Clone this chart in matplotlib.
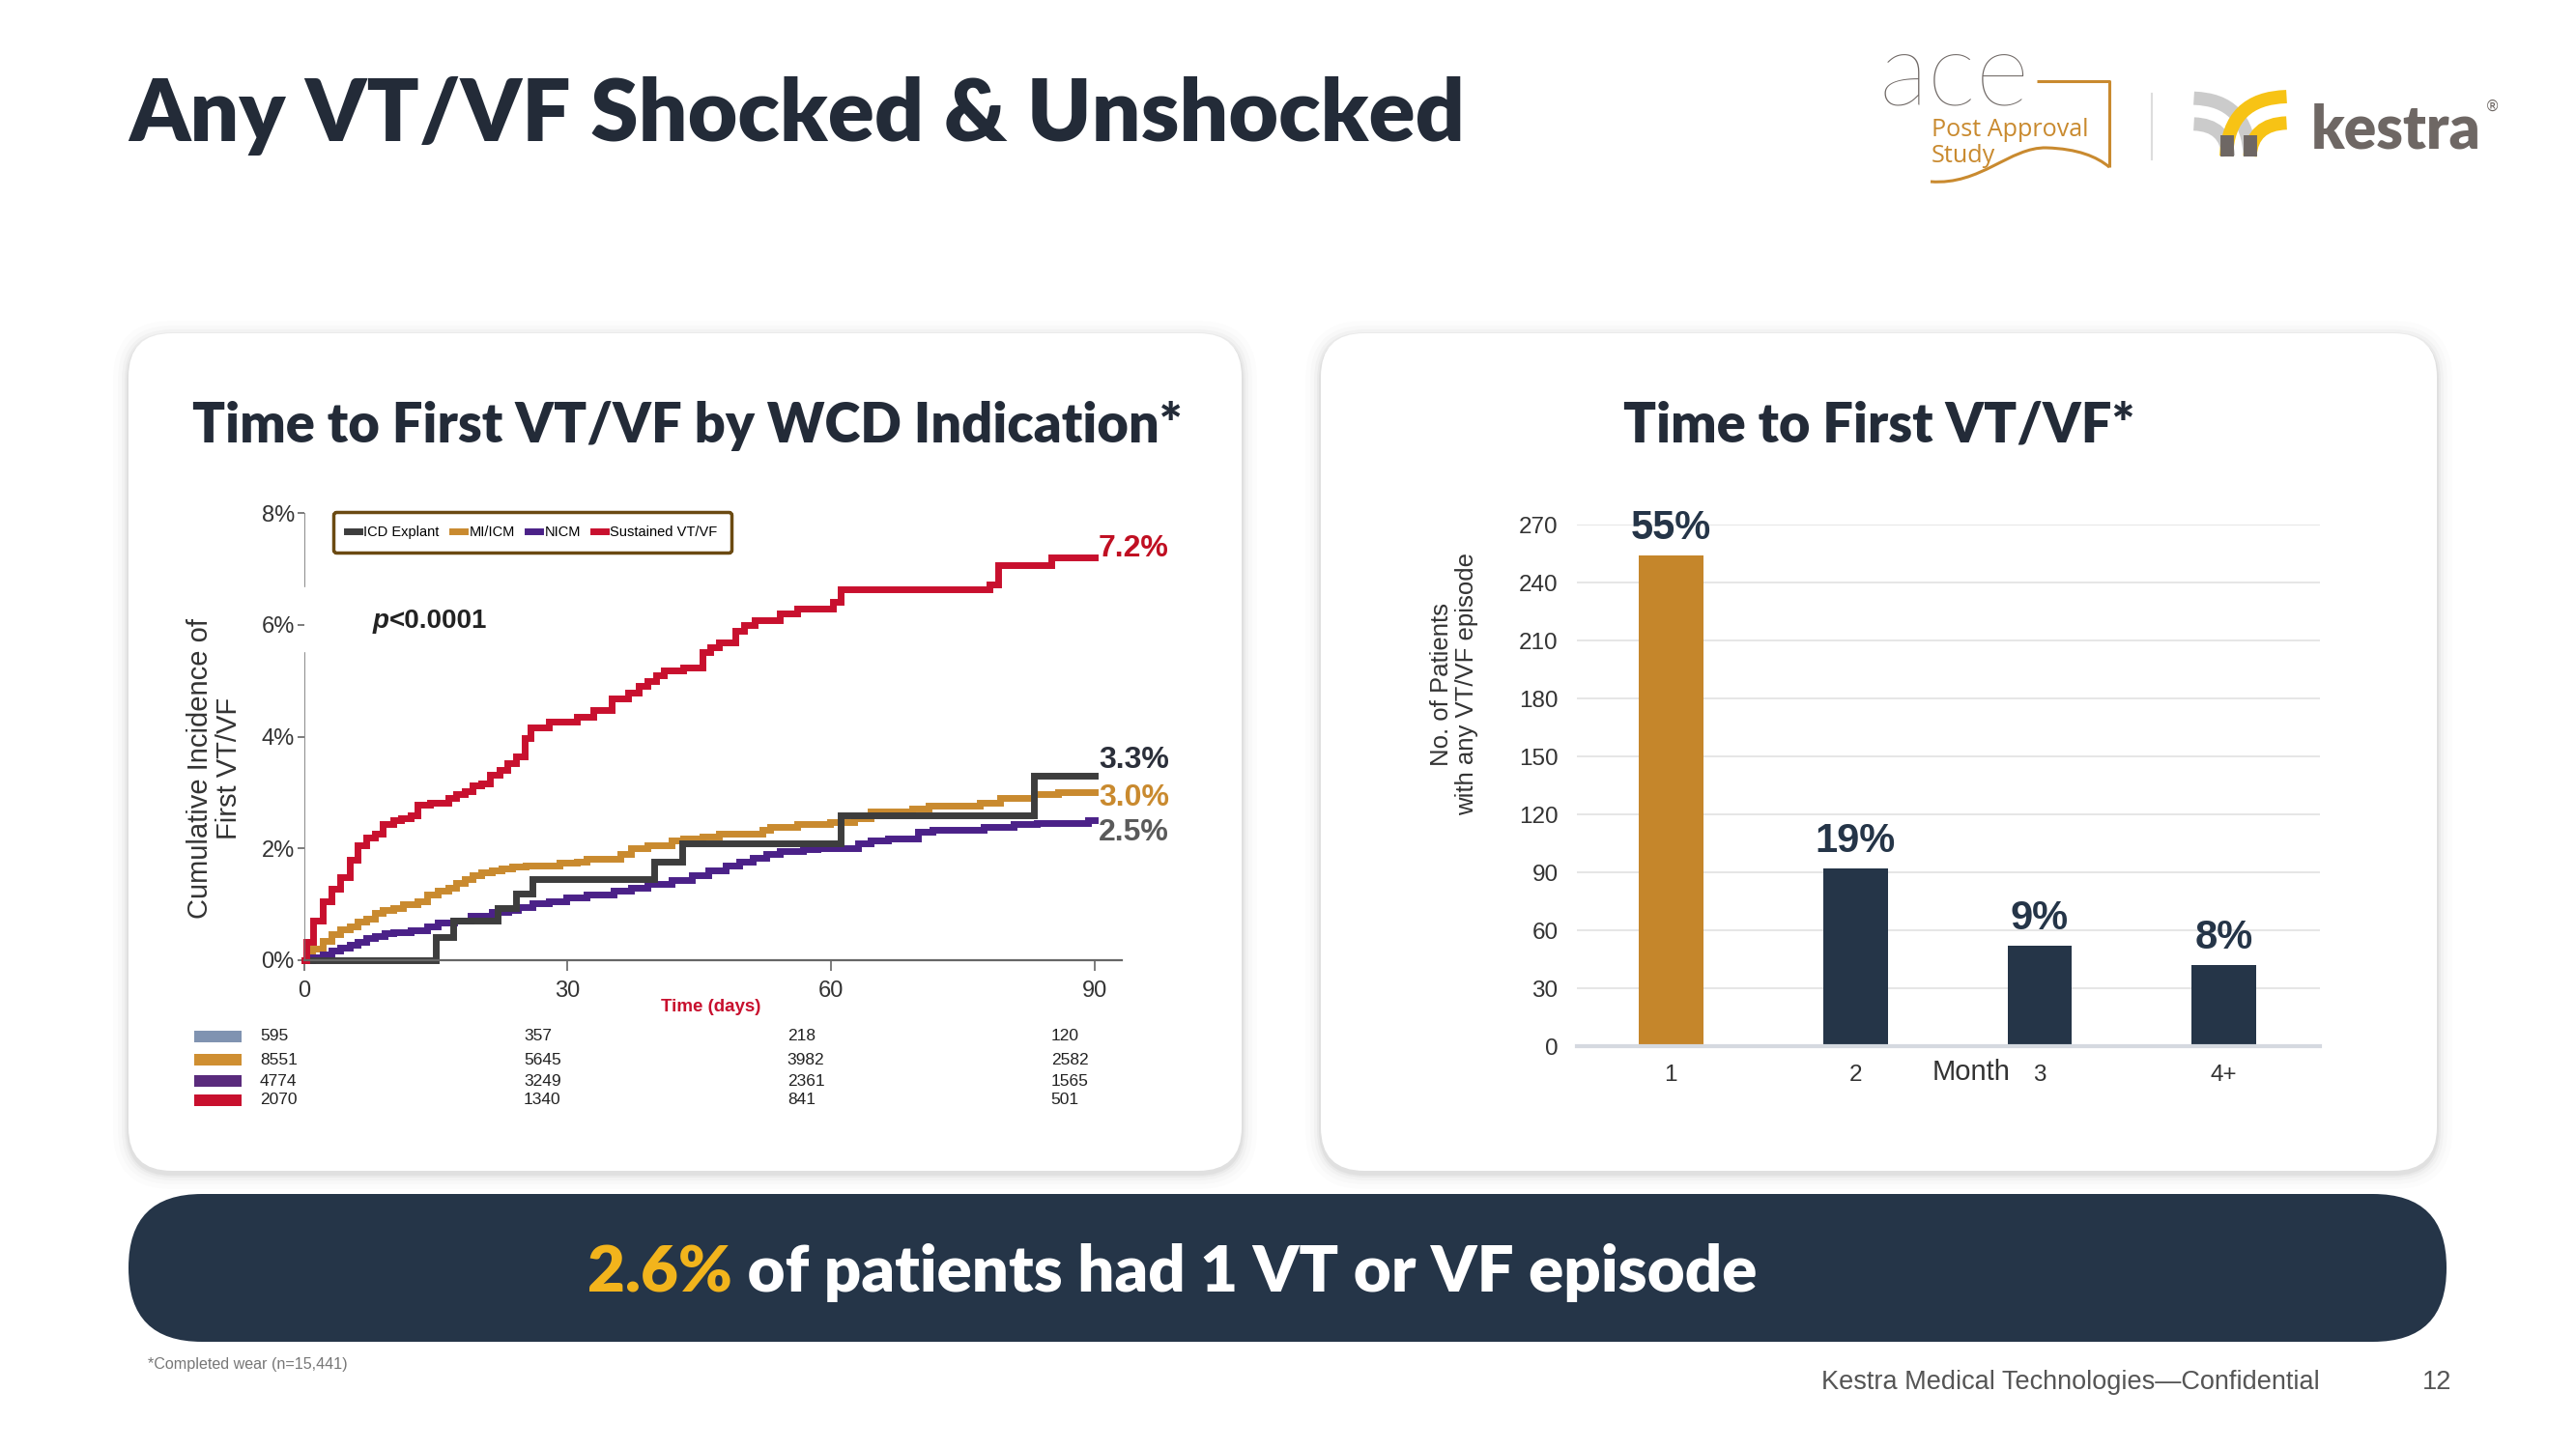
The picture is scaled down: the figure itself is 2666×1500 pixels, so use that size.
import matplotlib
matplotlib.use("Agg")
import matplotlib.pyplot as plt
import matplotlib.transforms as mtransforms
from matplotlib.patches import FancyBboxPatch, Rectangle, PathPatch
from matplotlib.path import Path
from matplotlib.lines import Line2D
from matplotlib.font_manager import FontProperties

# ---------------- data ----------------
groups = ["ICD Explant", "MI/ICM", "NICM", "Sustained VT/VF"]

icd_days = [0, 15.0, 17.0, 22.0, 24.1, 26.0, 39.9, 43.0, 61.1, 83.1, 90]
icd_pct = [0, 0.42, 0.71, 0.94, 1.20, 1.45, 1.77, 2.09, 2.60, 3.30, 3.30]

mi_days = [0, 0.3, 0.9, 2.1, 3.1, 4.1, 5.2, 6.1, 7.1, 8.1, 9.0, 10.2, 11.3, 12.9,
           14.0, 15.2, 16.4, 17.3, 18.3, 19.2, 20.2, 21.4, 22.5, 23.7, 25.2, 29.1,
           31.0, 32.2, 36.0, 37.2, 39.1, 41.8, 43.1, 45.3, 47.2, 52.2, 53.0, 56.1,
           59.9, 62.6, 64.5, 69.2, 71.1, 76.9, 79.2, 83.1, 85.8, 90]
mi_pct = [0, 0.10, 0.20, 0.35, 0.47, 0.55, 0.60, 0.69, 0.75, 0.84, 0.90, 0.94, 1.00,
          1.06, 1.18, 1.24, 1.30, 1.38, 1.46, 1.52, 1.57, 1.61, 1.64, 1.67, 1.70,
          1.74, 1.77, 1.82, 1.90, 2.01, 2.06, 2.14, 2.17, 2.21, 2.26, 2.33, 2.39,
          2.43, 2.47, 2.54, 2.66, 2.72, 2.76, 2.82, 2.90, 2.97, 3.00, 3.00]

nicm_days = [0, 0.9, 2.1, 3.1, 4.1, 5.2, 6.1, 7.1, 8.1, 9.2, 10.2, 12.1, 14.0, 15.2,
             17.1, 19.0, 21.4, 23.3, 24.4, 26.0, 27.9, 29.8, 32.2, 35.2, 37.2, 39.1,
             41.8, 44.1, 46.0, 48.0, 49.5, 51.1, 52.6, 54.1, 56.8, 58.4, 63.0, 64.5,
             66.5, 69.9, 71.5, 77.3, 80.7, 83.4, 89.2, 90]
nicm_pct = [0, 0.06, 0.10, 0.17, 0.22, 0.28, 0.33, 0.40, 0.44, 0.49, 0.50, 0.54, 0.60,
            0.67, 0.71, 0.79, 0.86, 0.90, 0.95, 1.02, 1.06, 1.12, 1.18, 1.24, 1.30,
            1.37, 1.43, 1.52, 1.61, 1.69, 1.77, 1.84, 1.90, 1.95, 1.98, 2.01, 2.09,
            2.14, 2.17, 2.29, 2.33, 2.38, 2.43, 2.46, 2.50, 2.50]

vt_days = [0, 0.3, 1.0, 2.1, 3.1, 4.1, 5.2, 6.1, 7.1, 8.1, 9.0, 10.2, 11.0, 12.1,
           12.9, 14.4, 16.4, 17.3, 18.3, 19.2, 20.2, 21.2, 22.3, 23.1, 24.1, 25.1,
           25.8, 27.9, 31.0, 32.9, 35.0, 36.9, 38.1, 39.1, 40.1, 41.0, 43.1, 45.3,
           46.2, 47.2, 49.1, 50.1, 51.3, 54.1, 56.1, 60.2, 61.1, 78.0, 79.0, 85.0, 90]
vt_pct = [0, 0.32, 0.71, 1.06, 1.27, 1.49, 1.80, 2.06, 2.20, 2.27, 2.44, 2.50, 2.54,
          2.60, 2.78, 2.82, 2.90, 2.97, 3.03, 3.12, 3.17, 3.32, 3.40, 3.52, 3.64,
          3.98, 4.17, 4.26, 4.36, 4.47, 4.69, 4.78, 4.90, 5.00, 5.09, 5.18, 5.24,
          5.52, 5.59, 5.69, 5.89, 5.99, 6.09, 6.20, 6.29, 6.41, 6.63, 6.72, 7.06,
          7.20, 7.20]

risk_times = [0, 30, 60, 90]
risk_icd = [595, 357, 218, 120]
risk_mi = [8551, 5645, 3982, 2582]
risk_nicm = [4774, 3249, 2361, 1565]
risk_vt = [2070, 1340, 841, 501]

months = ["1", "2", "3", "4+"]
month_counts = [254, 92, 52, 42]
month_pct = ["55%", "19%", "9%", "8%"]

# ---------------- style ----------------
NAVY = "#253548"
TITLE_C = "#232b38"
ORANGE = "#c98a2f"
RED = "#c8102e"
PURPLE = "#4b2188"
DGRAY = "#3d3d3d"
YELLOW = "#f2b41c"
LOGO_GRAY = "#6e6764"
HEAD = ["Lato", "DejaVu Sans"]
ARIAL = ["Liberation Sans", "DejaVu Sans"]
COND = ["Liberation Sans Narrow", "Liberation Sans", "DejaVu Sans"]


def cond(size, weight="normal"):
    return FontProperties(family=COND, stretch="condensed", size=size, weight=weight)


W, H = 2666, 1500
fig = plt.figure(figsize=(W / 100, H / 100), dpi=100)
fig.patch.set_facecolor("white")
bg = fig.add_axes([0, 0, 1, 1], zorder=0)
bg.set_xlim(0, W)
bg.set_ylim(H, 0)
bg.axis("off")
R = fig.canvas.get_renderer()


def px_axes(l, t, r, b):
    return [l / W, 1 - b / H, (r - l) / W, (b - t) / H]


def tw(t):
    return t.get_window_extent(renderer=R).width


def fit(x, y, s, width, fs=30, **kw):
    t = bg.text(x, y, s, fontsize=fs, **kw)
    t.set_fontsize(fs * width / tw(t))
    return t


def card(l, t, r, b, rad):
    for k, a in [(16, 0.010), (11, 0.015), (7, 0.022), (4, 0.03), (2, 0.04)]:
        bg.add_patch(FancyBboxPatch((l, t + 3), r - l, b - t,
                                    boxstyle=f"round,pad={k},rounding_size={rad + k}",
                                    fc="black", ec="none", alpha=a))
    bg.add_patch(FancyBboxPatch((l, t), r - l, b - t,
                                boxstyle=f"round,pad=0,rounding_size={rad}",
                                fc="white", ec="none"))


# ---------------- page decoration ----------------
card(133, 345, 1285, 1212, 45)
card(1367, 345, 2522, 1212, 45)
bg.add_patch(FancyBboxPatch((133, 1236), 2399, 153,
                            boxstyle="round,pad=0,rounding_size=76",
                            fc=NAVY, ec="none"))

fit(133, 146, "Any VT/VF Shocked & Unshocked", 1381, family=HEAD,
    fontweight="heavy", color=TITLE_C, va="baseline")
fit(199, 458, "Time to First VT/VF by WCD Indication*", 1023, family=HEAD,
    fontweight="heavy", color=TITLE_C, va="baseline")
fit(1680, 458, "Time to First VT/VF*", 529, family=HEAD,
    fontweight="heavy", color=TITLE_C, va="baseline")

# banner text
s1, s2 = "2.6%", " of patients had 1 VT or VF episode"
tmp = bg.text(0, 0, s1 + s2, fontsize=40, family=HEAD, fontweight="heavy")
bfs = 40 * 1211 / tw(tmp)
tmp.remove()
t1 = bg.text(608, 1337, s1, fontsize=bfs, family=HEAD, fontweight="heavy",
             color=YELLOW, va="baseline")
bg.text(608 + tw(t1), 1337, s2, fontsize=bfs, family=HEAD, fontweight="heavy",
        color="white", va="baseline")

# footer
fit(153, 1413, "*Completed wear (n=15,441)", 207, fs=9, color="#777777", va="center",
    family=ARIAL)
ft = fit(1885, 1431, "Kestra Medical Technologies\u2014Confidential", 518, fs=16,
         color="#555555", va="center", family=ARIAL)
bg.text(2522, 1431, "12", fontsize=ft.get_fontsize(), color="#555555", va="center",
        ha="center", family=ARIAL)

# ---------------- logos ----------------
fit(1945, 110, "ace", 156, fs=60, family=HEAD, fontweight="light", color=LOGO_GRAY,
    va="baseline")
bg.plot([2108, 2183, 2183], [84, 84, 173], color=ORANGE, lw=2.2, solid_capstyle="butt")
wave = Path([(1998, 188), (2050, 192), (2080, 152), (2118, 153),
             (2150, 154), (2170, 162), (2183, 173)],
            [Path.MOVETO, Path.CURVE4, Path.CURVE4, Path.CURVE4,
             Path.CURVE4, Path.CURVE4, Path.CURVE4])
bg.add_patch(PathPatch(wave, fc="none", ec=ORANGE, lw=2.2))
pa = fit(1999, 141, "Post Approval", 163, fs=16, family=["Open Sans", "DejaVu Sans"],
         color=ORANGE, va="baseline")
bg.text(1999, 168, "Study", fontsize=pa.get_fontsize(), family=["Open Sans", "DejaVu Sans"],
        color=ORANGE, va="baseline")
bg.plot([2227, 2227], [97, 165], color="#dddddd", lw=1.5)


def P(zx, zy):
    return (1900 + zx * 0.4464, 40 + zy * 0.3333)


def arc(a, c, b, color):
    p = Path([P(*a), P(*c), P(*b)], [Path.MOVETO, Path.CURVE3, Path.CURVE3])
    bg.add_patch(PathPatch(p, fc="none", ec=color, lw=10, capstyle="butt"))


arc((830, 185), (955, 190), (960, 365), "#cbcbcb")
arc((830, 265), (905, 268), (910, 365), "#cbcbcb")
arc((1045, 180), (910, 185), (905, 365), "#f7c315")
arc((1045, 262), (965, 265), (960, 365), "#f7c315")
for fx in (907, 960):
    x0, y0 = P(fx, 300)
    x1, y1 = P(fx, 365)
    bg.plot([x0, x1], [y0, y1], color=LOGO_GRAY, lw=10, solid_capstyle="butt")
fit(2392, 153, "kestra", 176, fs=44, family=HEAD, fontweight="heavy", color=LOGO_GRAY,
    va="baseline")
bg.text(2580, 110, "\u00ae", fontsize=11, color=LOGO_GRAY, ha="center", va="center")

# ---------------- left chart ----------------
ax1 = fig.add_axes(px_axes(314.5, 531, 314.5 + 846, 994), zorder=2)
ax1.patch.set_alpha(0)
ax1.set_xlim(0, 93)
ax1.set_ylim(0, 8)
series = [(mi_days, mi_pct, ORANGE), (nicm_days, nicm_pct, PURPLE),
          (icd_days, icd_pct, DGRAY), (vt_days, vt_pct, RED)]
for d, p, c in series:
    ax1.step(d, p, where="post", color=c, lw=5, solid_joinstyle="miter", clip_on=False)

for s in ("top", "right", "left"):
    ax1.spines[s].set_visible(False)
ax1.spines["bottom"].set_color("#666666")
ax1.spines["bottom"].set_linewidth(1.6)
ax1.axvline(0, 0, 5.49 / 8, color="#777777", lw=1.2)
ax1.axvline(0, 6.69 / 8, 1, color="#777777", lw=1.2)

ax1.set_xticks(risk_times)
ax1.set_xticklabels([str(t) for t in risk_times])
ax1.set_yticks([0, 2, 4, 6, 8])
ax1.set_yticklabels([f"{v}%" for v in [0, 2, 4, 6, 8]])
ax1.tick_params(axis="x", length=8, width=1.2, color="#666666", pad=7, labelcolor="#333333")
ax1.tick_params(axis="y", length=5, width=1.2, color="#666666", pad=2, labelcolor="#333333")
for lb in ax1.get_xticklabels() + ax1.get_yticklabels():
    lb.set_fontproperties(cond(17))

ax1.set_xlabel("Time (days)", color=RED, fontproperties=cond(13.5, "bold"), va="center")
ax1.xaxis.set_label_coords(0.498, -0.104)
ax1.set_ylabel("Cumulative Incidence of\nFirst VT/VF", fontsize=21, color="#333333",
               linespacing=1.1, va="center", family=ARIAL)
ax1.yaxis.set_label_coords(-0.109, 0.428)

# end labels
end_vals = [icd_pct[-1], mi_pct[-1], nicm_pct[-1], vt_pct[-1]]
end_offsets = [0.28, -0.10, -0.22, 0.16]
end_text_colors = ["#2b2f3a", ORANGE, "#5a5a5a", "#c00f22"]
for v, off, c in zip(end_vals, end_offsets, end_text_colors):
    ax1.text(90.4, v + off, f"{v:.1f}%", color=c, fontsize=23, fontweight="bold",
             va="center", ha="left", clip_on=False, family=ARIAL)

# legend
handles = [Line2D([0], [0], color=c, lw=5) for c in [DGRAY, ORANGE, PURPLE, RED]]
leg = ax1.legend(handles, groups, loc="upper left", bbox_to_anchor=(0.036, 1.002),
                 ncol=4, frameon=True, fancybox=True, handlelength=0.9,
                 handletextpad=0.3, columnspacing=0.9, borderpad=0.95,
                 borderaxespad=0, prop=cond(10.5))
fr = leg.get_frame()
fr.set_edgecolor("#6b4a12")
fr.set_linewidth(2.5)
fr.set_alpha(1)

# p value
pt = bg.text(386, 643, "p", fontsize=20, fontweight="bold", fontstyle="italic",
             color="#222222", va="center", family=ARIAL, zorder=3)
bg.text(386 + tw(pt), 643, "<0.0001", fontsize=20, fontweight="bold",
        color="#222222", va="center", family=ARIAL, zorder=3)

# number at risk table
blend = mtransforms.blended_transform_factory(ax1.transData, ax1.transAxes)
rows = [risk_icd, risk_mi, risk_nicm, risk_vt]
row_colors = ["#8093b1", "#cf8f32", "#5a2b7c", RED]
row_y = [-0.1706, -0.2225, -0.270, -0.313]
for vals, c, yy in zip(rows, row_colors, row_y):
    ax1.add_patch(Rectangle((-12.5, yy - 0.013), 5.4, 0.026, transform=blend,
                            fc=c, ec="none", clip_on=False))
    for t, n in zip(risk_times, vals):
        ax1.text(t - 5, yy, str(n), transform=blend, ha="left", va="center",
                 fontproperties=cond(12.5), color="#222222", clip_on=False)

# ---------------- right chart ----------------
ax2 = fig.add_axes(px_axes(1632, 543, 2401, 1083), zorder=2)
ax2.patch.set_alpha(0)
xs = list(range(len(months)))
ax2.bar(xs, month_counts, width=0.35, color=["#c5862b"] + [NAVY] * 3, zorder=2)
ax2.set_xlim(-0.51, 3.52)
ax2.set_ylim(0, 270)
ax2.set_yticks(range(0, 271, 30))
ax2.set_xticks(xs)
ax2.set_xticklabels(months)
ax2.grid(axis="y", color="#e4e4e4", lw=1.3)
ax2.set_axisbelow(True)
for s in ("top", "right", "left"):
    ax2.spines[s].set_visible(False)
ax2.spines["bottom"].set_color("#d5d9e0")
ax2.spines["bottom"].set_linewidth(3)
ax2.tick_params(axis="both", length=0, labelcolor="#333333")
ax2.tick_params(axis="y", pad=14)
ax2.tick_params(axis="x", pad=14)
for lb in ax2.get_xticklabels() + ax2.get_yticklabels():
    lb.set_fontproperties(FontProperties(family=ARIAL, size=17.5))
for i, (v, p) in enumerate(zip(month_counts, month_pct)):
    ax2.annotate(p, (i, v), xytext=(0, 6), textcoords="offset points", ha="center",
                 va="bottom", fontsize=30, fontweight="bold", color=NAVY,
                 family=ARIAL, annotation_clip=False)
ax2.set_ylabel("No. of Patients\nwith any VT/VF episode", fontsize=18.5, color="#333333",
               linespacing=1.1, va="center", family=ARIAL)
ax2.yaxis.set_label_coords(-0.165, 0.694)
ax2.set_xlabel("Month", fontsize=21, family=ARIAL, color="#333333", va="center")
ax2.xaxis.set_label_coords(0.53, -0.05)

fig.savefig("out.png", dpi=100, facecolor="white")
